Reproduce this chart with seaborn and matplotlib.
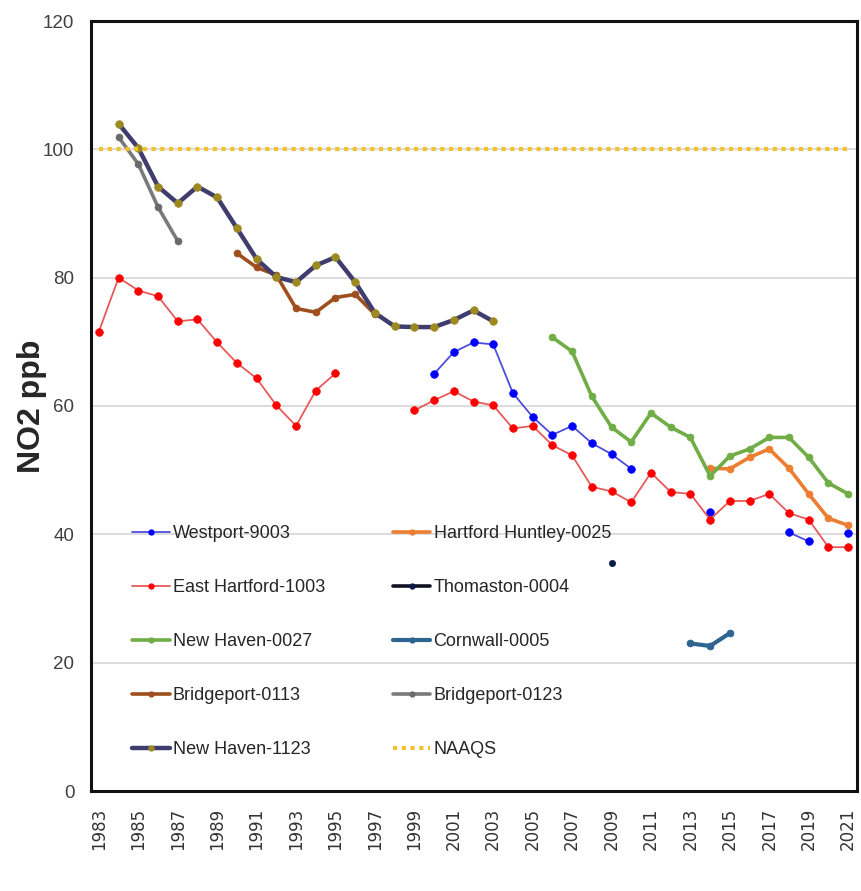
import numpy as np
import pandas as pd
import matplotlib
matplotlib.use('Agg')
import matplotlib.pyplot as plt
from matplotlib.lines import Line2D
import seaborn as sns

#------------------------------------------------
# annual NO2 values (ppb), per monitor
westport_yr = [2000, 2001, 2002, 2003, 2004, 2005, 2006, 2007, 2008, 2009, 2010, 2014, 2018, 2019, 2021]
westport = [65.0, 68.4, 69.9, 69.6, 62.0, 58.3, 55.5, 56.9, 54.2, 52.5, 50.2, 43.5, 40.3, 38.9, 40.2]

huntley_yr = [2014, 2015, 2016, 2017, 2018, 2019, 2020, 2021]
huntley = [50.3, 50.2, 52.0, 53.3, 50.3, 46.3, 42.5, 41.4]

ehartford_yr = [1983, 1984, 1985, 1986, 1987, 1988, 1989, 1990, 1991, 1992, 1993, 1994, 1995,
                1999, 2000, 2001, 2002, 2003, 2004, 2005, 2006, 2007, 2008, 2009, 2010,
                2011, 2012, 2013, 2014, 2015, 2016, 2017, 2018, 2019, 2020, 2021]
ehartford = [71.6, 80.0, 78.0, 77.1, 73.2, 73.5, 69.9, 66.7, 64.3, 60.1, 56.9, 62.4, 65.1,
             59.3, 60.9, 62.3, 60.7, 60.1, 56.5, 56.9, 53.9, 52.3, 47.4, 46.7, 45.0,
             49.6, 46.6, 46.3, 42.3, 45.2, 45.2, 46.3, 43.3, 42.3, 38.0, 38.0]

thomaston_yr = [2009]
thomaston = [35.5]

nh0027_yr = [2006, 2007, 2008, 2009, 2010, 2011, 2012, 2013, 2014, 2015, 2016, 2017, 2018, 2019, 2020, 2021]
nh0027 = [70.7, 68.5, 61.5, 56.7, 54.4, 58.9, 56.7, 55.1, 49.1, 52.2, 53.3, 55.1, 55.1, 52.0, 48.0, 46.3]

cornwall_yr = [2013, 2014, 2015]
cornwall = [23.0, 22.6, 24.6]

bp0113_yr = [1990, 1991, 1992, 1993, 1994, 1995, 1996, 1997]
bp0113 = [83.8, 81.6, 80.4, 75.2, 74.6, 76.9, 77.4, 74.3]

bp0123_yr = [1984, 1985, 1986, 1987]
bp0123 = [101.9, 97.7, 91.0, 85.7]

nh1123_yr = [1984, 1985, 1986, 1987, 1988, 1989, 1990, 1991, 1992, 1993, 1994, 1995,
             1996, 1997, 1998, 1999, 2000, 2001, 2002, 2003]
nh1123 = [104.0, 100.2, 94.2, 91.6, 94.2, 92.5, 87.7, 82.9, 80.1, 79.3, 81.9, 83.2,
          79.3, 74.5, 72.4, 72.3, 72.3, 73.4, 74.9, 73.2]

years = list(range(1983, 2022))
naaqs = [100] * len(years)

yticks = [0, 20, 40, 60, 80, 100, 120]
xticks = list(range(1983, 2022, 2))

##########################################################
sns.set_style('white')
plt.rcParams['font.family'] = ['Liberation Sans', 'DejaVu Sans']

fig = plt.figure(figsize=(8.61, 8.91), dpi=100)
ax = fig.add_axes([91/861, 1-791/891, 766/861, 770/891])


def segments(yrs, vals):
    df = pd.DataFrame({'year': yrs, 'ppb': vals})
    grp = (df['year'].diff() != 1).cumsum()
    return [g for _, g in df.groupby(grp)]


# name, years, values, line colour, line width, marker colour, marker size
series = [
    ('Westport-9003', westport_yr, westport, '#4d4ddb', 1.3, '#0000ff', 5.5),
    ('Hartford Huntley-0025', huntley_yr, huntley, '#ed7d31', 2.6, '#ed7d31', 5),
    ('East Hartford-1003', ehartford_yr, ehartford, '#e65a5c', 1.3, '#ff0000', 5.5),
    ('Thomaston-0004', thomaston_yr, thomaston, '#111122', 2.6, '#0b1a4a', 4.5),
    ('New Haven-0027', nh0027_yr, nh0027, '#70ad47', 2.6, '#70ad47', 5),
    ('Cornwall-0005', cornwall_yr, cornwall, '#2e6590', 3.0, '#2e6590', 5),
    ('Bridgeport-0113', bp0113_yr, bp0113, '#9e4f1d', 2.6, '#9e4f1d', 5),
    ('Bridgeport-0123', bp0123_yr, bp0123, '#7a7a7a', 2.6, '#6a6a6a', 5),
    ('New Haven-1123', nh1123_yr, nh1123, '#3f3d6e', 3.2, '#9c8a20', 5.5),
]

handles = {}
for name, yrs, vals, lc, lw, mc, ms in series:
    for seg in segments(yrs, vals):
        sns.lineplot(data=seg, x='year', y='ppb', ax=ax, color=lc, lw=lw,
                     marker='o', markersize=ms, markerfacecolor=mc, markeredgecolor=mc,
                     markeredgewidth=0.5, estimator=None, errorbar=None, legend=False, zorder=3)
    handles[name] = Line2D([], [], color=lc, lw=lw, marker='o', markersize=3.5,
                           markerfacecolor=mc, markeredgecolor=mc)

sns.lineplot(x=years, y=naaqs, ax=ax, color='#f2c12e', lw=3, linestyle=(0, (1, 1.1)),
             legend=False, zorder=4)
handles['NAAQS'] = Line2D([], [], color='#f2c12e', lw=3, linestyle=(0, (1, 1.1)))

#adjust
ax.set_xlim(1982.6, 2021.45)
ax.set_ylim(0, 120)
ax.set_yticks(yticks)
ax.set_xticks(xticks)
ax.yaxis.grid(True, color='#d9d9d9', lw=1.3, zorder=0)
ax.set_axisbelow(True)
ax.tick_params(axis='both', length=0)
ax.tick_params(axis='y', labelsize=13.5, labelcolor='#404040', pad=12)
ax.tick_params(axis='x', labelsize=12, labelcolor='#333333', pad=12)
for t in ax.get_xticklabels():
    t.set_rotation(90)
    t.set_family('DejaVu Sans')
for s in ax.spines.values():
    s.set_color('#111111')
    s.set_linewidth(2.2)
ax.set_xlabel('')
ax.set_ylabel('NO2 ppb', fontsize=23, fontweight='bold')
ax.yaxis.set_label_coords(-0.057, 0.5)

#legend: row-wise order, two columns
order = ['Westport-9003', 'East Hartford-1003', 'New Haven-0027', 'Bridgeport-0113', 'New Haven-1123',
         'Hartford Huntley-0025', 'Thomaston-0004', 'Cornwall-0005', 'Bridgeport-0123', 'NAAQS']
leg = ax.legend([handles[k] for k in order], order, ncol=2, loc='upper left',
                bbox_to_anchor=(0.053, 0.345), frameon=False, borderpad=0, borderaxespad=0,
                prop={'size': 13}, handlelength=2.1, handletextpad=0.17,
                labelspacing=2.05, columnspacing=3.75)
for t in leg.get_texts():
    t.set_color('#262626')

#save
plt.savefig('out.png', dpi=100)
plt.close()
